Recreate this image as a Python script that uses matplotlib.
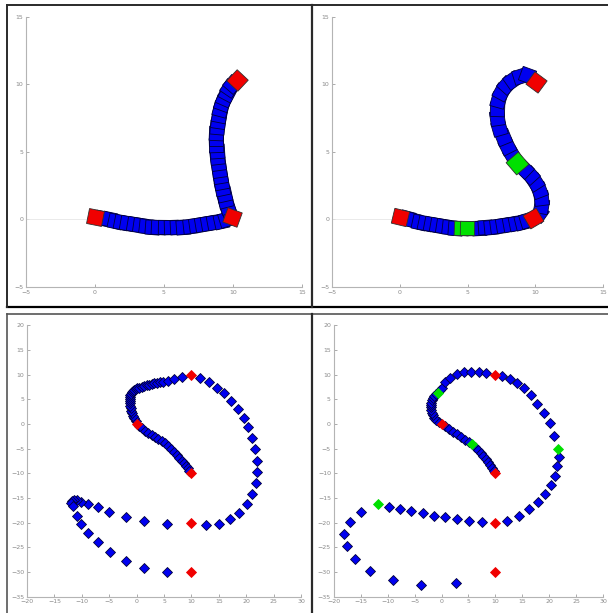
import numpy as np
import matplotlib.pyplot as plt
from matplotlib.lines import Line2D

# ---- top left: rod, two arms (r = node, b = segment)
tl_x = [0.0, 0.5, 1.0, 1.45, 1.9, 2.35, 2.8, 3.25, 3.7, 4.15, 4.6, 5.05, 5.5, 5.95, 6.4, 6.85,
        7.3, 7.75, 8.2, 8.65, 9.1, 9.5, 9.9,
        9.7, 9.55, 9.42, 9.32, 9.22, 9.13, 9.05, 8.98, 8.92, 8.86, 8.82, 8.8, 8.79, 8.8, 8.83,
        8.88, 8.96, 9.06, 9.19, 9.35, 9.53, 9.73, 9.95, 10.26]
tl_y = [0.2, 0.1, 0.0, -0.1, -0.2, -0.28, -0.36, -0.43, -0.49, -0.53, -0.56, -0.58, -0.57, -0.55,
        -0.52, -0.48, -0.42, -0.35, -0.27, -0.19, -0.1, 0.0, 0.15,
        0.55, 1.0, 1.45, 1.9, 2.35, 2.8, 3.25, 3.7, 4.15, 4.6, 5.05, 5.5, 5.95, 6.4, 6.85,
        7.3, 7.75, 8.2, 8.6, 9.0, 9.38, 9.72, 10.0, 10.33]
tl_kind = ['r'] + ['b'] * 21 + ['r'] + ['b'] * 23 + ['r']

# ---- top right: rod with green markers
tr_x = [0.0, 0.5, 0.95, 1.4, 1.85, 2.3, 2.75, 3.2, 3.65, 4.1, 4.55, 4.95, 5.4, 5.85, 6.3, 6.75,
        7.2, 7.65, 8.1, 8.55, 9.0, 9.4, 9.82,
        10.25, 10.45, 10.45, 10.3, 10.0, 9.6, 9.15, 8.65, 8.25, 7.9, 7.6, 7.35, 7.2, 7.15,
        7.25, 7.5, 7.85, 8.3, 8.85, 9.4, 10.06]
tr_y = [0.2, 0.08, -0.05, -0.15, -0.25, -0.34, -0.42, -0.5, -0.56, -0.6, -0.63, -0.64, -0.64,
        -0.62, -0.59, -0.55, -0.5, -0.43, -0.35, -0.26, -0.16, -0.05, 0.09,
        0.45, 1.0, 1.6, 2.2, 2.8, 3.3, 3.75, 4.2, 4.8, 5.45, 6.1, 6.8, 7.5, 8.2,
        8.85, 9.45, 9.95, 10.35, 10.65, 10.7, 10.21]
tr_kind = (['r'] + ['b'] * 9 + ['g', 'g'] + ['b'] * 10 + ['r'] + ['b'] * 7 + ['G']
           + ['b'] * 12 + ['r'])

# ---- bottom left: trajectory points
bl_red_x = [10, 0, 10, 10, 10]
bl_red_y = [10, 0, -10, -20, -30]
bl_inner_x = [0.45, 0.91, 1.5, 2.12, 2.72, 3.34, 3.95, 4.56, 5.17, 5.77, 6.3, 6.81, 7.3, 7.78,
              8.22, 8.63, 9.0, 9.3, 9.65,
              -0.2, -0.43, -0.62, -0.8, -0.95, -1.1, -1.17, -1.22, -1.26, -1.28, -1.26, -1.22,
              -1.08, -0.92, -0.7, -0.49, -0.2, 0.12, 0.5, 0.91, 1.35, 1.82, 2.27, 2.73, 3.2,
              3.64, 4.2, 4.85, 5.7, 6.75, 8.27]
bl_inner_y = [-0.42, -0.88, -1.32, -1.76, -2.17, -2.57, -3.0, -3.45, -3.94, -4.46, -5.02, -5.61,
              -6.2, -6.83, -7.4, -7.98, -8.5, -8.99, -9.5,
              0.55, 1.15, 1.65, 2.16, 2.67, 3.18, 3.68, 4.19, 4.63, 5.07, 5.48, 5.88,
              6.17, 6.42, 6.67, 6.9, 7.07, 7.24, 7.4, 7.57, 7.74, 7.91, 8.01, 8.11, 8.22,
              8.32, 8.45, 8.58, 8.78, 9.06, 9.53]
bl_outer_x = [11.55, 13.19, 14.65, 15.99, 17.27, 18.42, 19.52, 20.37, 21.1, 21.65, 22.01, 22.01,
              21.71, 21.1, 20.13, 18.73, 16.97, 14.96, 12.71,
              5.47, 1.39, -2.01, -4.99, -7.12, -8.83, -10.22, -10.9, -11.4, -11.8, -11.9, -11.6,
              -10.89, -10.1, -8.83, -7.12, -4.87, -2.01, 1.39, 5.47]
bl_outer_y = [9.4, 8.45, 7.37, 6.22, 4.73, 3.04, 1.28, -0.68, -2.77, -5.07, -7.44, -9.67,
              -12.03, -14.2, -16.29, -18.05, -19.34, -20.28, -20.49,
              -20.28, -19.68, -18.8, -17.78, -16.9, -16.23, -15.75, -15.4, -15.35, -15.6, -16.1,
              -16.7, -18.59, -20.22, -22.04, -24.0, -25.9, -27.72, -29.2, -29.95]

# ---- bottom right
br_red_x = [10, 0, 10, 10, 10]
br_red_y = [10, 0, -10, -20, -30]
br_green_x = [5.74, -0.62, 21.58, -11.81]
br_green_y = [-4.12, 6.36, -5.07, -16.29]
br_inner_x = [0.65, 1.34, 2.1, 2.87, 3.65, 4.4, 5.07, 6.3, 6.84, 7.3, 7.76, 8.18, 8.56, 8.93,
              9.29, 9.65,
              -0.5, -0.99, -1.32, -1.6, -1.78, -1.9, -1.98, -2.02, -1.95, -1.84, -1.65, -1.41,
              -1.03, -0.3, 0.0, 0.73, 1.65, 2.87, 4.21, 5.56, 6.9, 8.25]
br_inner_y = [-0.5, -1.01, -1.55, -2.1, -2.68, -3.25, -3.68, -4.68, -5.27, -5.85, -6.42, -7.03,
              -7.64, -8.3, -8.99, -9.5,
              0.4, 0.81, 1.3, 1.83, 2.33, 2.84, 3.35, 3.85, 4.36, 4.87, 5.33, 5.75,
              6.07, 6.85, 7.37, 8.45, 9.4, 10.14, 10.6, 10.62, 10.58, 10.3]
br_outer_x = [11.25, 12.65, 14.0, 15.35, 16.63, 17.73, 18.95, 20.06, 20.91, 21.71, 21.4, 20.97,
              20.3, 19.2, 17.85, 16.2, 14.31, 12.23,
              7.46, 5.19, 2.87, 0.73, -1.41, -3.43, -5.57, -7.65, -9.79,
              -14.99, -17.01, -18.05, -17.62, -16.09, -13.34, -9.06, -3.74, 2.75]
br_outer_y = [9.74, 9.13, 8.38, 7.37, 5.88, 4.12, 2.3, 0.14, -2.37, -6.76, -8.59, -10.55,
              -12.37, -14.2, -15.89, -17.31, -18.59, -19.61,
              -19.95, -19.68, -19.34, -18.93, -18.59, -18.12, -17.65, -17.24, -16.84,
              -17.78, -19.81, -22.25, -24.68, -27.38, -29.75, -31.64, -32.66, -32.18]

BLUE = '#0000f0'
RED = '#f00000'
GREEN = '#00e000'
EDGE = '#00003a'

W, H = 608, 613
fig = plt.figure(figsize=(W / 100, H / 100), dpi=100)


def add_ax(left, top, w, h):
    return fig.add_axes([left / W, 1 - (top + h) / H, w / W, h / H])


def style(ax, lim_x, lim_y, step):
    ax.set_xlim(*lim_x)
    ax.set_ylim(*lim_y)
    ax.set_xticks(np.arange(lim_x[0], lim_x[1] + 1, step))
    ax.set_yticks(np.arange(lim_y[0], lim_y[1] + 1, step))
    for s in ['top', 'right']:
        ax.spines[s].set_visible(False)
    for s in ['left', 'bottom']:
        ax.spines[s].set_color('#b4b4b4')
        ax.spines[s].set_linewidth(0.8)
    ax.tick_params(labelsize=4.5, colors='#8a8a8a', length=2, width=0.5,
                   direction='in', pad=2)


def rod(ax, xs, ys, kinds):
    xs = np.array(xs, float)
    ys = np.array(ys, float)
    ang = np.degrees(np.arctan2(np.gradient(ys), np.gradient(xs)))
    look = {'b': (BLUE, 14.5), 'g': (GREEN, 14.5), 'G': (GREEN, 16.5), 'r': (RED, 15.5)}
    for group in ['b', 'gG', 'r']:
        for i in range(len(xs)):
            if kinds[i] not in group:
                continue
            col, ms = look[kinds[i]]
            ax.plot(xs[i], ys[i], linestyle='none', marker=(4, 0, 45 + ang[i]),
                    ms=ms, color=col, mec=EDGE if col == BLUE else '#303030', mew=0.6)


def dots(ax, xs, ys, col, ms=7.0):
    ax.plot(xs, ys, linestyle='none', marker='D', ms=ms * 0.72, color=col,
            mec=EDGE if col == BLUE else col, mew=0.6)


ax1 = add_ax(26, 17, 276, 270)
style(ax1, (-5, 15), (-5, 15), 5)
ax1.plot([-5, 0], [0, 0], color='#e6e6e6', lw=0.6)
rod(ax1, tl_x, tl_y, tl_kind)

ax2 = add_ax(332, 17, 271, 270)
style(ax2, (-5, 15), (-5, 15), 5)
ax2.plot([-5, 0], [0, 0], color='#e6e6e6', lw=0.6)
rod(ax2, tr_x, tr_y, tr_kind)

ax3 = add_ax(27, 325.4, 274, 271.2)
style(ax3, (-20, 30), (-35, 20), 5)
dots(ax3, bl_inner_x, bl_inner_y, BLUE)
dots(ax3, bl_outer_x, bl_outer_y, BLUE)
dots(ax3, bl_red_x, bl_red_y, RED)

ax4 = add_ax(333.7, 325.4, 269.5, 271.2)
style(ax4, (-20, 30), (-35, 20), 5)
dots(ax4, br_inner_x, br_inner_y, BLUE)
dots(ax4, br_outer_x, br_outer_y, BLUE)
dots(ax4, br_green_x, br_green_y, GREEN)
dots(ax4, br_red_x, br_red_y, RED)


def frame_line(x0, y0, x1, y1, color='#2a2a2a', lw=1.4):
    fig.add_artist(Line2D([x0 / W, x1 / W], [1 - y0 / H, 1 - y1 / H], color=color, lw=lw))


frame_line(7, 5, W, 5)
frame_line(7, 307, W, 307, color='#000000', lw=1.6)
frame_line(7, 314, W, 314, color='#555555', lw=1.2)
frame_line(7, 5, 7, 307)
frame_line(7, 314, 7, H, color='#555555', lw=1.2)
frame_line(312, 5, 312, 307, lw=1.6)
frame_line(312, 314, 312, H, lw=1.6)

fig.savefig('out.png', dpi=100)
